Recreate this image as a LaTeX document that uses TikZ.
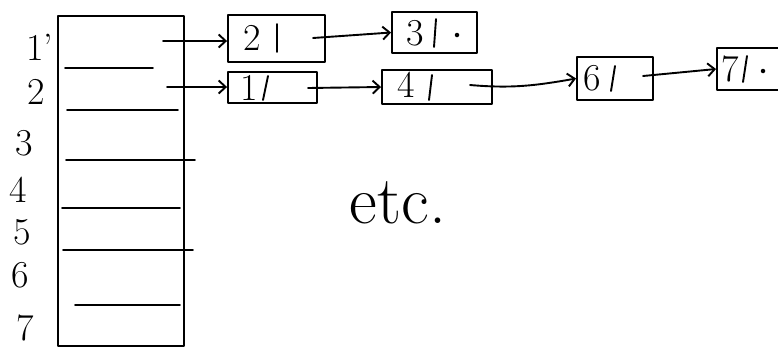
\documentclass[tikz,border=0pt]{standalone}
\usetikzlibrary{arrows.meta}
\begin{document}
\begin{tikzpicture}[x=1pt,y=-1pt,
  ink/.style={line width=1.9pt, line cap=round, line join=round},
  lbox/.style={draw, ink, inner sep=0pt},
  lab/.style={font=\fontsize{38}{40}\selectfont, inner sep=0pt},
  val/.style={font=\fontsize{38}{40}\selectfont, inner sep=0pt},
  nulldot/.style={circle, fill, inner sep=0pt, minimum size=4.5pt},
  ptr/.style={ink, -{Straight Barb[length=7pt,width=13pt,line width=1.9pt]}},
  slot/.style={ink}]
\useasboundingbox (0,0) rectangle (778,349);
\begin{scope}
\clip (0,0) rectangle (778,349);
% array
\node[lbox, minimum width=126pt, minimum height=330pt, anchor=north west] (arr) at (57,15) {};
\draw[slot] (65,68) -- (153,68);
\draw[slot] (67,110) -- (178,110);
\draw[slot] (66,160) -- (195,160);
\draw[slot] (62,208) -- (180,208);
\draw[slot] (63,250) -- (193,250);
\draw[slot] (75,305) -- (180,305);
% row labels
\node[lab] (l1) at (40,47) {1'};
\node[lab] (l2) at (36,92) {2};
\node[lab] (l3) at (24,143) {3};
\node[lab] (l4) at (18,190) {4};
\node[lab] (l5) at (22,232) {5};
\node[lab] (l6) at (20,275) {6};
\node[lab] (l7) at (25,328) {7};
% pointer starts in array
\coordinate (a1) at (163,41);
\coordinate (a2) at (167,87);
% list nodes
\node[lbox, minimum width=97pt, minimum height=47pt] (n2) at (276.5,38.5) {};
\node[val] (n2v) at (252,38) {2};
\draw[ink] (277,24) -- (277,52);
\coordinate (p2) at (313,38);

\node[lbox, minimum width=85pt, minimum height=41pt] (n3) at (434.5,32.5) {};
\node[val] (n3v) at (415,33) {3};
\draw[ink] (436,19) -- (434,47);
\node[nulldot] (n3n) at (457,35) {};

\node[lbox, minimum width=89pt, minimum height=31pt] (n1) at (272.5,87.5) {};
\node[val] (n1v) at (249,88) {1};
\draw[ink] (268,76) -- (263,100);
\coordinate (p1) at (308,88);

\node[lbox, minimum width=110pt, minimum height=34pt] (n4) at (437,87) {};
\node[val] (n4v) at (406,85) {4};
\draw[ink] (432,75) -- (429,100);
\coordinate (p4) at (470,85);

\node[lbox, minimum width=76pt, minimum height=43pt] (n6) at (615,78.5) {};
\node[val] (n6v) at (592,78) {6};
\draw[ink] (615,66) -- (611,91);
\coordinate (p6) at (643,76);

\node[lbox, minimum width=73pt, minimum height=42pt] (n7) at (753.5,69) {};
\node[val] (n7v) at (730,69) {7};
\draw[ink] (747,56) -- (743,82);
\node[nulldot] (n7n) at (763,71) {};

% connectors
\draw[ptr] (a1) -- (a1 -| n2.west);
\draw[ptr] (a2) -- (a2 -| n1.west);
\draw[ptr] (p2) -- (n3.west);
\draw[ptr] (p1) -- (n4.west);
\draw[ptr] (p4) to[out=-5, in=190] (n6.west);
\draw[ptr] (p6) -- (n7.west);

% etc.
\node[font=\fontsize{68}{70}\selectfont, inner sep=0pt] (etc) at (398,203) {etc.};
\end{scope}
\end{tikzpicture}
\end{document}
